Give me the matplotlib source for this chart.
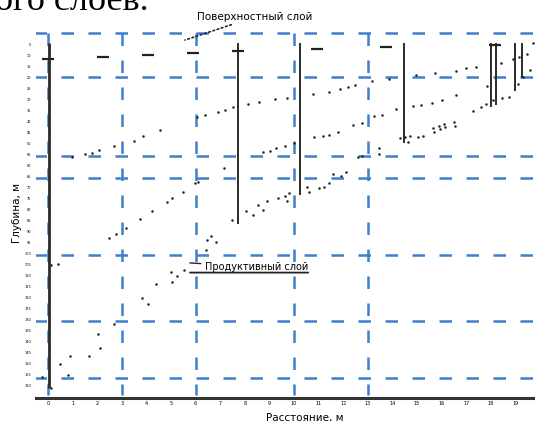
import matplotlib
matplotlib.use('Agg')
import matplotlib.pyplot as plt

# distance along the profile (tick units) and depth (m)
level_depths = [0, 20, 56, 66, 101, 131, 157]
grid_x = [0, 3, 6, 10, 13]

well_x = [0.04, 7.72, 10.24, 14.47, 18.01, 18.21, 18.98, 19.27]
well_top = [4.5, 4.5, 4.5, 4.5, 4.5, 4.5, 4.5, 4.5]
well_bottom = [161.4, 86.8, 73.6, 50.0, 33.6, 32.7, 26.4, 20.5]

surface_x = [0.0, 2.24, 4.07, 5.89, 7.72, 10.93, 13.74, 18.17]
surface_d = [11.8, 10.9, 10.0, 9.1, 8.2, 7.3, 6.4, 5.5]

# upper boundary
b1_x = [0.98, 1.50, 1.79, 2.07, 2.68, 3.50, 3.86, 4.55, 6.06, 6.38, 6.91, 7.20, 7.52,
        8.13, 8.58, 9.23, 9.72, 10.77, 11.42, 11.87, 12.20, 12.48, 13.17, 13.86,
        14.96, 15.73, 16.59, 16.99, 17.40, 18.41, 18.90, 19.15, 19.47, 19.72]
b1_d = [56.4, 55.0, 54.5, 53.2, 51.4, 49.1, 46.8, 44.1, 38.2, 37.3, 35.9, 35.0, 33.6,
        32.3, 31.4, 30.0, 29.5, 27.7, 26.8, 25.5, 24.5, 23.6, 21.8, 20.9,
        19.1, 18.2, 17.3, 15.9, 15.5, 13.6, 11.8, 10.9, 9.5, 4.5]

# middle boundary
b2_x = [0.12, 0.41, 2.48, 2.76, 3.17, 3.74, 4.23, 4.84, 5.04, 5.49, 5.98, 6.10, 7.15,
        8.74, 9.02, 9.27, 9.63, 10.00, 10.81, 11.18, 11.42, 11.79, 12.40, 12.76,
        13.25, 13.58, 14.15, 14.84, 15.16, 15.61, 16.02, 16.59, 17.85, 19.11, 19.31, 19.59]
b2_d = [105.5, 105.0, 93.2, 91.4, 88.6, 84.5, 80.9, 76.8, 75.0, 72.3, 68.2, 67.7, 61.4,
        54.1, 53.6, 52.3, 51.4, 50.0, 47.3, 46.8, 46.4, 45.0, 41.8, 40.9,
        37.7, 37.3, 34.5, 33.2, 32.7, 31.8, 30.5, 28.2, 24.1, 23.2, 20.0, 16.8]

# lower boundary (right part)
b3_x = [8.05, 8.33, 8.54, 8.74, 8.90, 9.35, 9.63, 9.80, 9.72, 10.53, 10.61, 11.02,
        11.22, 11.42, 11.59, 11.91, 12.11, 12.60, 12.76, 13.46, 13.46, 14.31, 14.51,
        14.72, 14.63, 15.04, 15.24, 15.65, 15.69, 15.89, 15.93, 16.10, 16.14, 16.50,
        16.54, 17.28, 17.60, 17.80, 18.09, 18.46, 18.74]
b3_d = [80.9, 82.7, 78.2, 80.5, 76.4, 75.0, 74.1, 72.7, 76.4, 70.0, 72.3, 70.5,
        70.0, 68.2, 64.1, 65.0, 63.2, 56.4, 55.9, 52.3, 55.0, 47.7, 47.3,
        46.8, 49.5, 47.3, 46.8, 43.2, 45.0, 42.3, 43.6, 41.4, 42.7, 40.5,
        42.3, 35.5, 33.6, 32.3, 30.5, 29.5, 29.1]

# lower boundary (left part)
b4_x = [-0.24, 0.12, 0.81, 0.49, 0.89, 1.67, 2.11, 2.03, 2.68, 3.82, 4.07, 4.39,
        5.04, 5.00, 5.24, 5.53, 6.42, 6.46, 6.63, 6.83, 7.48]
b4_d = [156.4, 161.4, 155.5, 150.5, 146.8, 146.8, 143.2, 136.8, 132.3, 120.5, 123.2,
        114.1, 113.2, 108.6, 110.5, 107.7, 98.6, 94.1, 92.3, 95.0, 85.0]

x_ticks = list(range(20))
y_ticks = list(range(5, 165, 5))

W, H = 535, 421
fig = plt.figure(figsize=(W / 100, H / 100), dpi=100)
fig.patch.set_facecolor('white')

ax = fig.add_axes([36 / W, 1 - 398 / H, (W - 36) / W, 384 / H])
ax.set_xlim(-0.488, 19.797)
ax.set_ylim(165.9, -8.64)

blue = '#3f7fce'
dash = (0, (5.0, 5.8))
ax.hlines(level_depths, -0.55, 19.8, colors=blue, lw=1.8, linestyles=[dash])
ax.vlines(grid_x, 0, 164.5, colors=blue, lw=1.8, linestyles=[dash])

for i, (x, t, b) in enumerate(zip(well_x, well_top, well_bottom)):
    ax.vlines(x, t, b, colors='#2b2b2b', lw=2.0 if i == 0 else 1.4)
ax.plot(surface_x, surface_d, ls='none', marker='_', ms=8, mew=1.6, color='#222222')

for xs, ds in [(b1_x, b1_d), (b2_x, b2_d), (b3_x, b3_d), (b4_x, b4_d)]:
    ax.plot(xs, ds, ls='none', marker='o', ms=1.8, mew=0, color='#222222')

# labels
ax.annotate('Поверхностный слой', xy=(5.57, 3.2), xytext=(6.06, -7.3),
            fontsize=7.5, va='center', ha='left', annotation_clip=False,
            arrowprops=dict(arrowstyle='-', ls=':', lw=1.2, color='#222222',
                            shrinkA=0, shrinkB=0))
t = ax.annotate('Продуктивный слой', xy=(5.77, 104.5), xytext=(6.38, 106.4),
                fontsize=7, va='center', ha='left',
                arrowprops=dict(arrowstyle='-', lw=1.0, color='#222222',
                                shrinkA=1, shrinkB=0))
ax.annotate('', xy=(1, -0.05), xycoords=t, xytext=(0, -0.05), textcoords=t,
            arrowprops=dict(arrowstyle='-', lw=1.3, color='#222222',
                            shrinkA=0, shrinkB=0))

ax.set_xticks(x_ticks)
ax.set_xticklabels([str(v) for v in x_ticks])
ax.set_yticks(y_ticks)
ax.set_yticklabels([str(v) for v in y_ticks])
ax.tick_params(axis='x', length=0, labelsize=3.5, pad=2)
ax.tick_params(axis='y', length=0, labelsize=2.5, pad=3.5)
for s in ['top', 'right', 'left']:
    ax.spines[s].set_visible(False)
ax.spines['bottom'].set_linewidth(2.2)
ax.spines['bottom'].set_color('#333333')
ax.patch.set_alpha(0)

fig.text(17 / W, 1 - 213 / H, 'Глубина, м', rotation=90, ha='center', va='center',
         fontsize=7.5)
fig.text(305 / W, 1 - 413 / H, 'Расстояние, м', ha='center', va='top', fontsize=7.5)
# heading line of the page, cut by the top edge as in the scan
fig.text(-5 / W, 1 - 10 / H, 'ого слоев.', family='Liberation Serif', fontsize=26,
         ha='left', va='baseline')

fig.savefig('out.png', dpi=100)
